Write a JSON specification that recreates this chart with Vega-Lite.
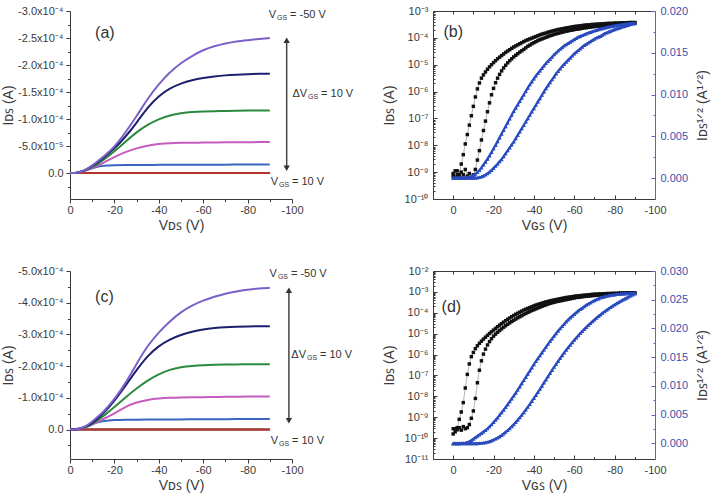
{
  "$schema": "https://vega.github.io/schema/vega-lite/v6.json",
  "background": "white",
  "padding": {"left": 1, "right": 4, "top": 5, "bottom": 4},
  "config": {
    "locale": {"number": {"decimal": ".", "thousands": ",", "grouping": [3], "currency": ["$", ""], "minus": "-"}},
    "view": {"stroke": null},
    "axis": {"grid": false, "labelFont": "Liberation Sans", "titleFont": "Liberation Sans", "labelFontSize": 11, "titleFontSize": 14, "titleFontWeight": "normal", "labelColor": "#3a3a3a", "titleColor": "#3a3a3a", "domainColor": "#3a3a3a", "tickColor": "#3a3a3a", "labelFlush": false, "labelOverlap": false},
    "text": {"font": "Liberation Sans", "color": "#333333"}
  },
  "datasets": {
    "oa": [
      {"v": 0, "gp10": 0, "g0": 0, "g10": 0, "g20": 0, "g30": 0, "g40": 0, "g50": 0},
      {"v": -2.5, "gp10": 0, "g0": 0, "g10": -5e-7, "g20": 0, "g30": 0, "g40": 0, "g50": 0},
      {"v": -5, "gp10": 0, "g0": 0, "g10": -3e-6, "g20": -2e-6, "g30": -2e-6, "g40": -2e-6, "g50": -2e-6},
      {"v": -7.5, "gp10": 0, "g0": 0, "g10": -6e-6, "g20": -5e-6, "g30": -6e-6, "g40": -7e-6, "g50": -7e-6},
      {"v": -10, "gp10": 0, "g0": 0, "g10": -9e-6, "g20": -9e-6, "g30": -1.1e-5, "g40": -1.3e-5, "g50": -1.4e-5},
      {"v": -12.5, "gp10": 0, "g0": 0, "g10": -1.2e-5, "g20": -1.4e-5, "g30": -1.7e-5, "g40": -2.0e-5, "g50": -2.2e-5},
      {"v": -15, "gp10": 0, "g0": 0, "g10": -1.35e-5, "g20": -1.9e-5, "g30": -2.4e-5, "g40": -2.8e-5, "g50": -3.0e-5},
      {"v": -20, "gp10": 0, "g0": 0, "g10": -1.45e-5, "g20": -3.0e-5, "g30": -4.0e-5, "g40": -4.5e-5, "g50": -4.8e-5},
      {"v": -25, "gp10": 0, "g0": 0, "g10": -1.48e-5, "g20": -3.9e-5, "g30": -5.8e-5, "g40": -6.7e-5, "g50": -7.5e-5},
      {"v": -30, "gp10": 0, "g0": 0, "g10": -1.5e-5, "g20": -4.6e-5, "g30": -7.6e-5, "g40": -9.3e-5, "g50": -1.05e-4},
      {"v": -35, "gp10": 0, "g0": 0, "g10": -1.51e-5, "g20": -5.1e-5, "g30": -9.0e-5, "g40": -1.22e-4, "g50": -1.38e-4},
      {"v": -40, "gp10": 0, "g0": 0, "g10": -1.52e-5, "g20": -5.4e-5, "g30": -1.0e-4, "g40": -1.43e-4, "g50": -1.65e-4},
      {"v": -45, "gp10": 0, "g0": 0, "g10": -1.53e-5, "g20": -5.55e-5, "g30": -1.07e-4, "g40": -1.57e-4, "g50": -1.87e-4},
      {"v": -50, "gp10": 0, "g0": 0, "g10": -1.54e-5, "g20": -5.6e-5, "g30": -1.11e-4, "g40": -1.66e-4, "g50": -2.04e-4},
      {"v": -55, "gp10": 0, "g0": 0, "g10": -1.54e-5, "g20": -5.62e-5, "g30": -1.13e-4, "g40": -1.72e-4, "g50": -2.17e-4},
      {"v": -60, "gp10": 0, "g0": 0, "g10": -1.55e-5, "g20": -5.65e-5, "g30": -1.14e-4, "g40": -1.76e-4, "g50": -2.28e-4},
      {"v": -65, "gp10": 0, "g0": 0, "g10": -1.56e-5, "g20": -5.67e-5, "g30": -1.145e-4, "g40": -1.79e-4, "g50": -2.35e-4},
      {"v": -70, "gp10": 0, "g0": 0, "g10": -1.56e-5, "g20": -5.7e-5, "g30": -1.15e-4, "g40": -1.81e-4, "g50": -2.40e-4},
      {"v": -75, "gp10": 0, "g0": 0, "g10": -1.57e-5, "g20": -5.7e-5, "g30": -1.155e-4, "g40": -1.82e-4, "g50": -2.44e-4},
      {"v": -80, "gp10": 0, "g0": 0, "g10": -1.58e-5, "g20": -5.72e-5, "g30": -1.16e-4, "g40": -1.83e-4, "g50": -2.46e-4},
      {"v": -85, "gp10": 0, "g0": 0, "g10": -1.59e-5, "g20": -5.73e-5, "g30": -1.16e-4, "g40": -1.84e-4, "g50": -2.48e-4},
      {"v": -90, "gp10": 0, "g0": 0, "g10": -1.6e-5, "g20": -5.75e-5, "g30": -1.16e-4, "g40": -1.84e-4, "g50": -2.50e-4}
    ],
    "oc": [
      {"v": 0, "gp10": 0, "g0": 0, "g10": 0, "g20": 0, "g30": 0, "g40": 0, "g50": 0},
      {"v": -2.5, "gp10": 0, "g0": 0, "g10": -1e-6, "g20": 0, "g30": 0, "g40": 0, "g50": 0},
      {"v": -5, "gp10": 0, "g0": 0, "g10": -4e-6, "g20": -3e-6, "g30": -3e-6, "g40": -3e-6, "g50": -3e-6},
      {"v": -7.5, "gp10": 0, "g0": 0, "g10": -1.0e-5, "g20": -8e-6, "g30": -9e-6, "g40": -1.0e-5, "g50": -1.2e-5},
      {"v": -10, "gp10": 0, "g0": 0, "g10": -1.7e-5, "g20": -1.5e-5, "g30": -1.7e-5, "g40": -2.0e-5, "g50": -2.5e-5},
      {"v": -12.5, "gp10": 0, "g0": 0, "g10": -2.3e-5, "g20": -2.5e-5, "g30": -3.0e-5, "g40": -3.5e-5, "g50": -4.0e-5},
      {"v": -15, "gp10": 0, "g0": 0, "g10": -2.7e-5, "g20": -3.3e-5, "g30": -4.2e-5, "g40": -5.0e-5, "g50": -5.5e-5},
      {"v": -20, "gp10": 0, "g0": 0, "g10": -3.0e-5, "g20": -5.0e-5, "g30": -7.0e-5, "g40": -9.0e-5, "g50": -9.5e-5},
      {"v": -25, "gp10": 0, "g0": 0, "g10": -3.1e-5, "g20": -7.2e-5, "g30": -1.02e-4, "g40": -1.38e-4, "g50": -1.45e-4},
      {"v": -30, "gp10": 0, "g0": 0, "g10": -3.1e-5, "g20": -8.6e-5, "g30": -1.30e-4, "g40": -1.88e-4, "g50": -2.08e-4},
      {"v": -35, "gp10": 0, "g0": 0, "g10": -3.12e-5, "g20": -9.4e-5, "g30": -1.55e-4, "g40": -2.33e-4, "g50": -2.65e-4},
      {"v": -40, "gp10": 0, "g0": 0, "g10": -3.15e-5, "g20": -9.8e-5, "g30": -1.75e-4, "g40": -2.64e-4, "g50": -3.07e-4},
      {"v": -45, "gp10": 0, "g0": 0, "g10": -3.17e-5, "g20": -1.0e-4, "g30": -1.89e-4, "g40": -2.85e-4, "g50": -3.42e-4},
      {"v": -50, "gp10": 0, "g0": 0, "g10": -3.2e-5, "g20": -1.01e-4, "g30": -1.97e-4, "g40": -2.99e-4, "g50": -3.71e-4},
      {"v": -55, "gp10": 0, "g0": 0, "g10": -3.2e-5, "g20": -1.015e-4, "g30": -2.01e-4, "g40": -3.09e-4, "g50": -3.92e-4},
      {"v": -60, "gp10": 0, "g0": 0, "g10": -3.22e-5, "g20": -1.02e-4, "g30": -2.03e-4, "g40": -3.16e-4, "g50": -4.07e-4},
      {"v": -65, "gp10": 0, "g0": 0, "g10": -3.25e-5, "g20": -1.025e-4, "g30": -2.04e-4, "g40": -3.2e-4, "g50": -4.19e-4},
      {"v": -70, "gp10": 0, "g0": 0, "g10": -3.27e-5, "g20": -1.03e-4, "g30": -2.05e-4, "g40": -3.23e-4, "g50": -4.29e-4},
      {"v": -75, "gp10": 0, "g0": 0, "g10": -3.3e-5, "g20": -1.035e-4, "g30": -2.05e-4, "g40": -3.24e-4, "g50": -4.36e-4},
      {"v": -80, "gp10": 0, "g0": 0, "g10": -3.3e-5, "g20": -1.04e-4, "g30": -2.06e-4, "g40": -3.25e-4, "g50": -4.41e-4},
      {"v": -85, "gp10": 0, "g0": 0, "g10": -3.3e-5, "g20": -1.04e-4, "g30": -2.06e-4, "g40": -3.26e-4, "g50": -4.45e-4},
      {"v": -90, "gp10": 0, "g0": 0, "g10": -3.3e-5, "g20": -1.04e-4, "g30": -2.06e-4, "g40": -3.26e-4, "g50": -4.47e-4}
    ],
    "tb": [
      {"v": 0, "ia": 8.91e-10, "ib": 7.08e-10, "sa": 0.00003, "sb": 0.00002},
      {"v": -1, "ia": 6.31e-10, "ib": 1.12e-9, "sa": 0.00002, "sb": 0.00002},
      {"v": -2, "ia": 1.12e-9, "ib": 7.94e-10, "sa": 0.00004, "sb": 0.00003},
      {"v": -3, "ia": 7.94e-10, "ib": 6.31e-10, "sa": 0.00003, "sb": 0.00002},
      {"v": -4, "ia": 2.0e-9, "ib": 1.0e-9, "sa": 0.00004, "sb": 0.00003},
      {"v": -5, "ia": 4.47e-9, "ib": 7.94e-10, "sa": 0.00005, "sb": 0.00002},
      {"v": -6, "ia": 1.12e-8, "ib": 1.26e-9, "sa": 0.00006, "sb": 0.00003},
      {"v": -7, "ia": 2.51e-8, "ib": 7.08e-10, "sa": 0.00008, "sb": 0.00002},
      {"v": -8, "ia": 5.62e-8, "ib": 8.91e-10, "sa": 0.0001, "sb": 0.00003},
      {"v": -9, "ia": 1.26e-7, "ib": 6.31e-10, "sa": 0.0002, "sb": 0.00002},
      {"v": -10, "ia": 2.82e-7, "ib": 7.94e-10, "sa": 0.00035, "sb": 0.00003},
      {"v": -11, "ia": 6.31e-7, "ib": 1.26e-9, "sa": 0.0005, "sb": 0.00003},
      {"v": -12, "ia": 1.26e-6, "ib": 2.82e-9, "sa": 0.0007, "sb": 0.00005},
      {"v": -13, "ia": 2.09e-6, "ib": 6.31e-9, "sa": 0.00095, "sb": 0.0001},
      {"v": -14, "ia": 3.16e-6, "ib": 1.58e-8, "sa": 0.00125, "sb": 0.00017},
      {"v": -15, "ia": 4.17e-6, "ib": 3.55e-8, "sa": 0.0016, "sb": 0.00027},
      {"v": -16, "ia": 5.37e-6, "ib": 7.94e-8, "sa": 0.00195, "sb": 0.0004},
      {"v": -17, "ia": 6.76e-6, "ib": 1.78e-7, "sa": 0.0023, "sb": 0.00055},
      {"v": -18, "ia": 8.32e-6, "ib": 3.80e-7, "sa": 0.0027, "sb": 0.00075},
      {"v": -19, "ia": 1.0e-5, "ib": 7.59e-7, "sa": 0.0031, "sb": 0.00095},
      {"v": -20, "ia": 1.20e-5, "ib": 1.32e-6, "sa": 0.00355, "sb": 0.0012},
      {"v": -21, "ia": 1.41e-5, "ib": 2.14e-6, "sa": 0.00395, "sb": 0.00145},
      {"v": -22, "ia": 1.66e-5, "ib": 3.16e-6, "sa": 0.0044, "sb": 0.0017},
      {"v": -23, "ia": 1.91e-5, "ib": 4.37e-6, "sa": 0.00485, "sb": 0.002},
      {"v": -24, "ia": 2.19e-5, "ib": 5.89e-6, "sa": 0.0053, "sb": 0.00225},
      {"v": -25, "ia": 2.51e-5, "ib": 7.59e-6, "sa": 0.00575, "sb": 0.0026},
      {"v": -26, "ia": 2.88e-5, "ib": 9.55e-6, "sa": 0.0062, "sb": 0.00295},
      {"v": -27, "ia": 3.24e-5, "ib": 1.17e-5, "sa": 0.00665, "sb": 0.0033},
      {"v": -28, "ia": 3.63e-5, "ib": 1.41e-5, "sa": 0.0071, "sb": 0.00365},
      {"v": -29, "ia": 4.07e-5, "ib": 1.66e-5, "sa": 0.00755, "sb": 0.004},
      {"v": -30, "ia": 4.57e-5, "ib": 1.95e-5, "sa": 0.008, "sb": 0.00435},
      {"v": -31, "ia": 5.01e-5, "ib": 2.24e-5, "sa": 0.0084, "sb": 0.00475},
      {"v": -32, "ia": 5.50e-5, "ib": 2.57e-5, "sa": 0.0088, "sb": 0.00515},
      {"v": -33, "ia": 6.03e-5, "ib": 2.95e-5, "sa": 0.0092, "sb": 0.00555},
      {"v": -34, "ia": 6.61e-5, "ib": 3.31e-5, "sa": 0.0096, "sb": 0.00595},
      {"v": -35, "ia": 7.24e-5, "ib": 3.72e-5, "sa": 0.01, "sb": 0.00635},
      {"v": -36, "ia": 7.94e-5, "ib": 4.27e-5, "sa": 0.0104, "sb": 0.00675},
      {"v": -37, "ia": 8.51e-5, "ib": 4.90e-5, "sa": 0.0108, "sb": 0.00715},
      {"v": -38, "ia": 9.12e-5, "ib": 5.37e-5, "sa": 0.0112, "sb": 0.00755},
      {"v": -39, "ia": 9.77e-5, "ib": 6.03e-5, "sa": 0.01155, "sb": 0.00795},
      {"v": -40, "ia": 1.05e-4, "ib": 6.61e-5, "sa": 0.0119, "sb": 0.00835},
      {"v": -41, "ia": 1.12e-4, "ib": 7.24e-5, "sa": 0.01225, "sb": 0.00875},
      {"v": -42, "ia": 1.20e-4, "ib": 7.94e-5, "sa": 0.01255, "sb": 0.00915},
      {"v": -43, "ia": 1.29e-4, "ib": 8.51e-5, "sa": 0.01285, "sb": 0.00955},
      {"v": -44, "ia": 1.38e-4, "ib": 9.12e-5, "sa": 0.01315, "sb": 0.00995},
      {"v": -45, "ia": 1.45e-4, "ib": 9.77e-5, "sa": 0.01345, "sb": 0.01035},
      {"v": -46, "ia": 1.51e-4, "ib": 1.05e-4, "sa": 0.01375, "sb": 0.01075},
      {"v": -47, "ia": 1.62e-4, "ib": 1.12e-4, "sa": 0.014, "sb": 0.0111},
      {"v": -48, "ia": 1.70e-4, "ib": 1.20e-4, "sa": 0.01425, "sb": 0.01145},
      {"v": -49, "ia": 1.78e-4, "ib": 1.26e-4, "sa": 0.0145, "sb": 0.0118},
      {"v": -50, "ia": 1.86e-4, "ib": 1.35e-4, "sa": 0.0148, "sb": 0.01215},
      {"v": -51, "ia": 1.95e-4, "ib": 1.41e-4, "sa": 0.015, "sb": 0.0125},
      {"v": -52, "ia": 2.04e-4, "ib": 1.48e-4, "sa": 0.01525, "sb": 0.0128},
      {"v": -53, "ia": 2.09e-4, "ib": 1.55e-4, "sa": 0.01545, "sb": 0.0131},
      {"v": -54, "ia": 2.19e-4, "ib": 1.62e-4, "sa": 0.01565, "sb": 0.0134},
      {"v": -55, "ia": 2.24e-4, "ib": 1.70e-4, "sa": 0.01585, "sb": 0.01365},
      {"v": -56, "ia": 2.34e-4, "ib": 1.78e-4, "sa": 0.016, "sb": 0.0139},
      {"v": -57, "ia": 2.40e-4, "ib": 1.82e-4, "sa": 0.01615, "sb": 0.01415},
      {"v": -58, "ia": 2.45e-4, "ib": 1.91e-4, "sa": 0.0163, "sb": 0.0144},
      {"v": -59, "ia": 2.57e-4, "ib": 1.95e-4, "sa": 0.01645, "sb": 0.01465},
      {"v": -60, "ia": 2.63e-4, "ib": 2.04e-4, "sa": 0.0166, "sb": 0.0149},
      {"v": -61, "ia": 2.69e-4, "ib": 2.09e-4, "sa": 0.01675, "sb": 0.0151},
      {"v": -62, "ia": 2.75e-4, "ib": 2.14e-4, "sa": 0.0169, "sb": 0.0153},
      {"v": -63, "ia": 2.82e-4, "ib": 2.19e-4, "sa": 0.017, "sb": 0.0155},
      {"v": -64, "ia": 2.88e-4, "ib": 2.29e-4, "sa": 0.0171, "sb": 0.0157},
      {"v": -65, "ia": 2.95e-4, "ib": 2.34e-4, "sa": 0.0172, "sb": 0.0159},
      {"v": -66, "ia": 3.02e-4, "ib": 2.40e-4, "sa": 0.0173, "sb": 0.01605},
      {"v": -67, "ia": 3.02e-4, "ib": 2.45e-4, "sa": 0.0174, "sb": 0.0162},
      {"v": -68, "ia": 3.09e-4, "ib": 2.51e-4, "sa": 0.01748, "sb": 0.01635},
      {"v": -69, "ia": 3.16e-4, "ib": 2.57e-4, "sa": 0.01756, "sb": 0.0165},
      {"v": -70, "ia": 3.16e-4, "ib": 2.63e-4, "sa": 0.01764, "sb": 0.01665},
      {"v": -71, "ia": 3.24e-4, "ib": 2.69e-4, "sa": 0.01772, "sb": 0.0168},
      {"v": -72, "ia": 3.24e-4, "ib": 2.75e-4, "sa": 0.0178, "sb": 0.0169},
      {"v": -73, "ia": 3.31e-4, "ib": 2.75e-4, "sa": 0.01786, "sb": 0.017},
      {"v": -74, "ia": 3.31e-4, "ib": 2.82e-4, "sa": 0.01792, "sb": 0.01715},
      {"v": -75, "ia": 3.39e-4, "ib": 2.88e-4, "sa": 0.01798, "sb": 0.0173},
      {"v": -76, "ia": 3.39e-4, "ib": 2.95e-4, "sa": 0.01804, "sb": 0.0174},
      {"v": -77, "ia": 3.47e-4, "ib": 2.95e-4, "sa": 0.0181, "sb": 0.0175},
      {"v": -78, "ia": 3.47e-4, "ib": 3.02e-4, "sa": 0.01815, "sb": 0.0176},
      {"v": -79, "ia": 3.47e-4, "ib": 3.09e-4, "sa": 0.0182, "sb": 0.0177},
      {"v": -80, "ia": 3.55e-4, "ib": 3.09e-4, "sa": 0.01824, "sb": 0.0178},
      {"v": -81, "ia": 3.55e-4, "ib": 3.16e-4, "sa": 0.01828, "sb": 0.01788},
      {"v": -82, "ia": 3.55e-4, "ib": 3.24e-4, "sa": 0.01832, "sb": 0.01796},
      {"v": -83, "ia": 3.63e-4, "ib": 3.24e-4, "sa": 0.01836, "sb": 0.01804},
      {"v": -84, "ia": 3.63e-4, "ib": 3.31e-4, "sa": 0.0184, "sb": 0.01812},
      {"v": -85, "ia": 3.63e-4, "ib": 3.39e-4, "sa": 0.01843, "sb": 0.0182},
      {"v": -86, "ia": 3.63e-4, "ib": 3.39e-4, "sa": 0.01846, "sb": 0.01827},
      {"v": -87, "ia": 3.72e-4, "ib": 3.47e-4, "sa": 0.01849, "sb": 0.01834},
      {"v": -88, "ia": 3.72e-4, "ib": 3.47e-4, "sa": 0.01852, "sb": 0.01841},
      {"v": -89, "ia": 3.72e-4, "ib": 3.55e-4, "sa": 0.01854, "sb": 0.01847},
      {"v": -90, "ia": 3.72e-4, "ib": 3.63e-4, "sa": 0.01855, "sb": 0.01852}
    ],
    "td": [
      {"v": 0, "ia": 2.82e-10, "ib": 1.58e-10, "sa": 0.00002, "sb": 0.00002},
      {"v": -1, "ia": 2.0e-10, "ib": 2.82e-10, "sa": 0.00002, "sb": 0.00002},
      {"v": -2, "ia": 3.16e-10, "ib": 2.51e-10, "sa": 0.00003, "sb": 0.00002},
      {"v": -3, "ia": 7.94e-10, "ib": 3.16e-10, "sa": 0.00003, "sb": 0.00002},
      {"v": -4, "ia": 1.78e-9, "ib": 2.40e-10, "sa": 0.00004, "sb": 0.00002},
      {"v": -5, "ia": 5.01e-9, "ib": 3.55e-10, "sa": 0.00005, "sb": 0.00002},
      {"v": -6, "ia": 2.51e-8, "ib": 2.82e-10, "sa": 0.0001, "sb": 0.00002},
      {"v": -7, "ia": 1.12e-7, "ib": 3.16e-10, "sa": 0.0002, "sb": 0.00002},
      {"v": -8, "ia": 3.55e-7, "ib": 4.47e-10, "sa": 0.00035, "sb": 0.00002},
      {"v": -9, "ia": 7.94e-7, "ib": 8.91e-10, "sa": 0.00055, "sb": 0.00002},
      {"v": -10, "ia": 1.26e-6, "ib": 2.0e-9, "sa": 0.0008, "sb": 0.00002},
      {"v": -11, "ia": 1.91e-6, "ib": 7.94e-9, "sa": 0.00105, "sb": 0.00002},
      {"v": -12, "ia": 2.63e-6, "ib": 4.47e-8, "sa": 0.0013, "sb": 0.00002},
      {"v": -13, "ia": 3.47e-6, "ib": 1.78e-7, "sa": 0.00155, "sb": 0.00005},
      {"v": -14, "ia": 4.37e-6, "ib": 5.01e-7, "sa": 0.0018, "sb": 0.00008},
      {"v": -15, "ia": 5.50e-6, "ib": 1.05e-6, "sa": 0.00205, "sb": 0.00012},
      {"v": -16, "ia": 6.76e-6, "ib": 1.82e-6, "sa": 0.0023, "sb": 0.00018},
      {"v": -17, "ia": 8.32e-6, "ib": 2.88e-6, "sa": 0.0026, "sb": 0.00026},
      {"v": -18, "ia": 1.02e-5, "ib": 4.17e-6, "sa": 0.00295, "sb": 0.00036},
      {"v": -19, "ia": 1.23e-5, "ib": 5.75e-6, "sa": 0.0033, "sb": 0.0005},
      {"v": -20, "ia": 1.48e-5, "ib": 7.59e-6, "sa": 0.0037, "sb": 0.00065},
      {"v": -21, "ia": 1.78e-5, "ib": 9.55e-6, "sa": 0.0041, "sb": 0.00082},
      {"v": -22, "ia": 2.14e-5, "ib": 1.17e-5, "sa": 0.0045, "sb": 0.001},
      {"v": -23, "ia": 2.57e-5, "ib": 1.41e-5, "sa": 0.00495, "sb": 0.0012},
      {"v": -24, "ia": 3.02e-5, "ib": 1.70e-5, "sa": 0.0054, "sb": 0.00145},
      {"v": -25, "ia": 3.55e-5, "ib": 2.04e-5, "sa": 0.00585, "sb": 0.00172},
      {"v": -26, "ia": 4.17e-5, "ib": 2.40e-5, "sa": 0.0063, "sb": 0.002},
      {"v": -27, "ia": 4.90e-5, "ib": 2.82e-5, "sa": 0.0068, "sb": 0.0023},
      {"v": -28, "ia": 5.62e-5, "ib": 3.31e-5, "sa": 0.0073, "sb": 0.00262},
      {"v": -29, "ia": 6.46e-5, "ib": 3.80e-5, "sa": 0.0078, "sb": 0.00296},
      {"v": -30, "ia": 7.41e-5, "ib": 4.37e-5, "sa": 0.0083, "sb": 0.00332},
      {"v": -31, "ia": 8.51e-5, "ib": 5.01e-5, "sa": 0.0088, "sb": 0.0037},
      {"v": -32, "ia": 9.55e-5, "ib": 5.75e-5, "sa": 0.00935, "sb": 0.0041},
      {"v": -33, "ia": 1.07e-4, "ib": 6.46e-5, "sa": 0.0099, "sb": 0.00452},
      {"v": -34, "ia": 1.20e-4, "ib": 7.24e-5, "sa": 0.01045, "sb": 0.00495},
      {"v": -35, "ia": 1.35e-4, "ib": 8.32e-5, "sa": 0.011, "sb": 0.0054},
      {"v": -36, "ia": 1.48e-4, "ib": 9.33e-5, "sa": 0.01155, "sb": 0.00587},
      {"v": -37, "ia": 1.62e-4, "ib": 1.05e-4, "sa": 0.0121, "sb": 0.00635},
      {"v": -38, "ia": 1.78e-4, "ib": 1.15e-4, "sa": 0.01265, "sb": 0.00685},
      {"v": -39, "ia": 1.95e-4, "ib": 1.29e-4, "sa": 0.0132, "sb": 0.00736},
      {"v": -40, "ia": 2.14e-4, "ib": 1.41e-4, "sa": 0.01375, "sb": 0.00788},
      {"v": -41, "ia": 2.34e-4, "ib": 1.55e-4, "sa": 0.0143, "sb": 0.0084},
      {"v": -42, "ia": 2.51e-4, "ib": 1.70e-4, "sa": 0.0148, "sb": 0.00893},
      {"v": -43, "ia": 2.69e-4, "ib": 1.86e-4, "sa": 0.0153, "sb": 0.00947},
      {"v": -44, "ia": 2.88e-4, "ib": 2.04e-4, "sa": 0.0158, "sb": 0.01002},
      {"v": -45, "ia": 3.09e-4, "ib": 2.24e-4, "sa": 0.0163, "sb": 0.01057},
      {"v": -46, "ia": 3.31e-4, "ib": 2.40e-4, "sa": 0.0168, "sb": 0.01112},
      {"v": -47, "ia": 3.47e-4, "ib": 2.63e-4, "sa": 0.0173, "sb": 0.01167},
      {"v": -48, "ia": 3.72e-4, "ib": 2.82e-4, "sa": 0.0178, "sb": 0.01222},
      {"v": -49, "ia": 3.89e-4, "ib": 3.02e-4, "sa": 0.01825, "sb": 0.01277},
      {"v": -50, "ia": 4.07e-4, "ib": 3.16e-4, "sa": 0.0187, "sb": 0.0133},
      {"v": -51, "ia": 4.27e-4, "ib": 3.39e-4, "sa": 0.01915, "sb": 0.01382},
      {"v": -52, "ia": 4.47e-4, "ib": 3.55e-4, "sa": 0.0196, "sb": 0.01433},
      {"v": -53, "ia": 4.68e-4, "ib": 3.72e-4, "sa": 0.02, "sb": 0.01483},
      {"v": -54, "ia": 4.90e-4, "ib": 3.89e-4, "sa": 0.0204, "sb": 0.01532},
      {"v": -55, "ia": 5.13e-4, "ib": 4.07e-4, "sa": 0.0208, "sb": 0.0158},
      {"v": -56, "ia": 5.37e-4, "ib": 4.27e-4, "sa": 0.0212, "sb": 0.01627},
      {"v": -57, "ia": 5.50e-4, "ib": 4.47e-4, "sa": 0.02155, "sb": 0.01672},
      {"v": -58, "ia": 5.75e-4, "ib": 4.68e-4, "sa": 0.0219, "sb": 0.01716},
      {"v": -59, "ia": 5.89e-4, "ib": 4.90e-4, "sa": 0.0222, "sb": 0.01759},
      {"v": -60, "ia": 6.17e-4, "ib": 5.13e-4, "sa": 0.0225, "sb": 0.018},
      {"v": -61, "ia": 6.31e-4, "ib": 5.37e-4, "sa": 0.0228, "sb": 0.0184},
      {"v": -62, "ia": 6.46e-4, "ib": 5.50e-4, "sa": 0.0231, "sb": 0.0188},
      {"v": -63, "ia": 6.61e-4, "ib": 5.62e-4, "sa": 0.02335, "sb": 0.01918},
      {"v": -64, "ia": 6.76e-4, "ib": 5.89e-4, "sa": 0.0236, "sb": 0.01955},
      {"v": -65, "ia": 6.92e-4, "ib": 6.03e-4, "sa": 0.02385, "sb": 0.0199},
      {"v": -66, "ia": 7.08e-4, "ib": 6.17e-4, "sa": 0.0241, "sb": 0.02025},
      {"v": -67, "ia": 7.24e-4, "ib": 6.31e-4, "sa": 0.0243, "sb": 0.0206},
      {"v": -68, "ia": 7.41e-4, "ib": 6.46e-4, "sa": 0.0245, "sb": 0.02092},
      {"v": -69, "ia": 7.59e-4, "ib": 6.61e-4, "sa": 0.0247, "sb": 0.02124},
      {"v": -70, "ia": 7.76e-4, "ib": 6.76e-4, "sa": 0.0249, "sb": 0.02155},
      {"v": -71, "ia": 7.76e-4, "ib": 6.92e-4, "sa": 0.02505, "sb": 0.02185},
      {"v": -72, "ia": 7.94e-4, "ib": 7.08e-4, "sa": 0.0252, "sb": 0.02214},
      {"v": -73, "ia": 7.94e-4, "ib": 7.24e-4, "sa": 0.02535, "sb": 0.02242},
      {"v": -74, "ia": 8.13e-4, "ib": 7.41e-4, "sa": 0.02545, "sb": 0.0227},
      {"v": -75, "ia": 8.13e-4, "ib": 7.59e-4, "sa": 0.02555, "sb": 0.02296},
      {"v": -76, "ia": 8.32e-4, "ib": 7.59e-4, "sa": 0.02565, "sb": 0.02322},
      {"v": -77, "ia": 8.32e-4, "ib": 7.76e-4, "sa": 0.02572, "sb": 0.02347},
      {"v": -78, "ia": 8.32e-4, "ib": 7.94e-4, "sa": 0.0258, "sb": 0.02371},
      {"v": -79, "ia": 8.51e-4, "ib": 7.94e-4, "sa": 0.02585, "sb": 0.02394},
      {"v": -80, "ia": 8.51e-4, "ib": 8.13e-4, "sa": 0.0259, "sb": 0.02416},
      {"v": -81, "ia": 8.51e-4, "ib": 8.13e-4, "sa": 0.02595, "sb": 0.02437},
      {"v": -82, "ia": 8.71e-4, "ib": 8.32e-4, "sa": 0.026, "sb": 0.02458},
      {"v": -83, "ia": 8.71e-4, "ib": 8.32e-4, "sa": 0.02602, "sb": 0.02478},
      {"v": -84, "ia": 8.71e-4, "ib": 8.51e-4, "sa": 0.02605, "sb": 0.02497},
      {"v": -85, "ia": 8.71e-4, "ib": 8.51e-4, "sa": 0.02607, "sb": 0.02516},
      {"v": -86, "ia": 8.91e-4, "ib": 8.71e-4, "sa": 0.0261, "sb": 0.02534},
      {"v": -87, "ia": 8.91e-4, "ib": 8.71e-4, "sa": 0.02612, "sb": 0.02552},
      {"v": -88, "ia": 8.91e-4, "ib": 8.91e-4, "sa": 0.02614, "sb": 0.0257},
      {"v": -89, "ia": 8.91e-4, "ib": 8.91e-4, "sa": 0.02616, "sb": 0.02587},
      {"v": -90, "ia": 8.91e-4, "ib": 8.91e-4, "sa": 0.0262, "sb": 0.02605}
    ],
    "notes": [
      {"p": "a", "v": -92.8, "i": -2.93e-4, "t1": "V", "t2": "GS", "t3": "= -50 V"},
      {"p": "a", "v": -106.8, "i": -1.46e-4, "t1": "ΔV", "t2": "GS", "t3": "= 10 V"},
      {"p": "a", "v": -93.7, "i": 1.7e-5, "t1": "V", "t2": "GS", "t3": "= 10 V"},
      {"p": "c", "v": -93.2, "i": -4.9e-4, "t1": "V", "t2": "GS", "t3": "= -50 V"},
      {"p": "c", "v": -106.3, "i": -2.36e-4, "t1": "ΔV", "t2": "GS", "t3": "= 10 V"},
      {"p": "c", "v": -93.7, "i": 3.5e-5, "t1": "V", "t2": "GS", "t3": "= 10 V"}
    ],
    "arrows": [
      {"p": "a", "v": -97.6, "hi": -2.46e-4, "lo": -9e-6},
      {"p": "c", "v": -98.6, "hi": -4.39e-4, "lo": -2.8e-5}
    ],
    "tags": [
      {"p": "a", "v": -15.7, "y": -2.6e-4, "t": "(a)"},
      {"p": "b", "v": 0, "y": 1.62e-4, "t": "(b)"},
      {"p": "c", "v": -15.5, "y": -4.19e-4, "t": "(c)"},
      {"p": "d", "v": 0.9, "y": 1.82e-4, "t": "(d)"}
    ]
  },
  "columns": 2,
  "spacing": {"row": 72, "column": 141},
  "bounds": "flush",
  "concat": [
    {
      "width": 222,
      "height": 188,
      "resolve": {"axis": {"x": "independent", "y": "independent"}},
      "layer": [
        {
          "data": {"name": "oa"},
          "transform": [{"fold": ["gp10", "g0", "g10", "g20", "g30", "g40", "g50"], "as": ["vgs", "i"]}],
          "mark": {"type": "line", "interpolate": "basis"},
          "encoding": {
            "x": {"field": "v", "type": "quantitative", "scale": {"domain": [-100, 0], "reverse": true},
              "axis": {"orient": "bottom", "values": [0, -20, -40, -60, -80, -100], "tickSize": 4, "labelPadding": 1, "title": "Vᴅꜱ (V)", "titlePadding": 3}},
            "y": {"field": "i", "type": "quantitative", "scale": {"domain": [-3e-4, 4.8e-5], "reverse": true},
              "axis": {"orient": "left", "values": [-3e-4, -2.5e-4, -2e-4, -1.5e-4, -1e-4, -5e-5, 0], "tickSize": 4, "labelPadding": 3, "title": "Iᴅꜱ (A)", "titlePadding": 2,
                "labelExpr": "datum.value == 0 ? '0.0' : abs(datum.value) < 9.9e-5 ? format(datum.value * 1e5, '.1f') + 'x10⁻⁵' : format(datum.value * 1e4, '.1f') + 'x10⁻⁴'"}},
            "color": {"field": "vgs", "type": "nominal", "legend": null,
              "scale": {"domain": ["gp10", "g0", "g10", "g20", "g30", "g40", "g50"], "range": ["#2b2b2b", "#b8342a", "#3a66c0", "#c65cc0", "#2b8a3e", "#1b1f6c", "#7b60c8"]}},
            "strokeWidth": {"field": "vgs", "type": "nominal", "legend": null,
              "scale": {"domain": ["gp10", "g0", "g10", "g20", "g30", "g40", "g50"], "range": [2, 2, 1.5, 1.8, 2, 2, 2]}}
          }
        },
        {
          "data": {"name": "arrows"},
          "transform": [{"filter": "datum.p == 'a'"}],
          "mark": {"type": "rule", "color": "#444444", "strokeWidth": 1.5},
          "encoding": {
            "x": {"field": "v", "type": "quantitative", "scale": {"domain": [-100, 0], "reverse": true},
              "axis": {"orient": "bottom", "values": [-10, -30, -50, -70, -90], "tickSize": 2.5, "labels": false, "domain": false, "title": null}},
            "y": {"field": "hi", "type": "quantitative", "scale": {"domain": [-3e-4, 4.8e-5], "reverse": true},
              "axis": {"orient": "left", "values": [-2.75e-4, -2.25e-4, -1.75e-4, -1.25e-4, -7.5e-5, -2.5e-5, 2.5e-5], "tickSize": 2.5, "labels": false, "domain": false, "title": null}},
            "y2": {"field": "lo"}
          }
        },
        {
          "data": {"name": "arrows"},
          "transform": [{"filter": "datum.p == 'a'"}],
          "mark": {"type": "point", "shape": "triangle-up", "size": 40, "filled": true, "color": "#333333", "opacity": 1},
          "encoding": {
            "x": {"field": "v", "type": "quantitative", "scale": {"domain": [-100, 0], "reverse": true}, "axis": null},
            "y": {"field": "hi", "type": "quantitative", "scale": {"domain": [-3e-4, 4.8e-5], "reverse": true}, "axis": null}
          }
        },
        {
          "data": {"name": "arrows"},
          "transform": [{"filter": "datum.p == 'a'"}],
          "mark": {"type": "point", "shape": "triangle-down", "size": 40, "filled": true, "color": "#333333", "opacity": 1},
          "encoding": {
            "x": {"field": "v", "type": "quantitative", "scale": {"domain": [-100, 0], "reverse": true}, "axis": null},
            "y": {"field": "lo", "type": "quantitative", "scale": {"domain": [-3e-4, 4.8e-5], "reverse": true}, "axis": null}
          }
        },
        {
          "data": {"name": "notes"},
          "transform": [{"filter": "datum.p == 'a'"}],
          "mark": {"type": "text", "align": "right", "baseline": "middle", "fontSize": 11},
          "encoding": {
            "x": {"field": "v", "type": "quantitative", "scale": {"domain": [-100, 0], "reverse": true}, "axis": null},
            "y": {"field": "i", "type": "quantitative", "scale": {"domain": [-3e-4, 4.8e-5], "reverse": true}, "axis": null},
            "text": {"field": "t1"}
          }
        },
        {
          "data": {"name": "notes"},
          "transform": [{"filter": "datum.p == 'a'"}],
          "mark": {"type": "text", "align": "left", "baseline": "middle", "fontSize": 7, "dx": 1, "dy": 3},
          "encoding": {
            "x": {"field": "v", "type": "quantitative", "scale": {"domain": [-100, 0], "reverse": true}, "axis": null},
            "y": {"field": "i", "type": "quantitative", "scale": {"domain": [-3e-4, 4.8e-5], "reverse": true}, "axis": null},
            "text": {"field": "t2"}
          }
        },
        {
          "data": {"name": "notes"},
          "transform": [{"filter": "datum.p == 'a'"}],
          "mark": {"type": "text", "align": "left", "baseline": "middle", "fontSize": 11, "dx": 14},
          "encoding": {
            "x": {"field": "v", "type": "quantitative", "scale": {"domain": [-100, 0], "reverse": true}, "axis": null},
            "y": {"field": "i", "type": "quantitative", "scale": {"domain": [-3e-4, 4.8e-5], "reverse": true}, "axis": null},
            "text": {"field": "t3"}
          }
        },
        {
          "data": {"name": "tags"},
          "transform": [{"filter": "datum.p == 'a'"}],
          "mark": {"type": "text", "align": "center", "baseline": "middle", "fontSize": 16},
          "encoding": {
            "x": {"field": "v", "type": "quantitative", "scale": {"domain": [-100, 0], "reverse": true}, "axis": null},
            "y": {"field": "y", "type": "quantitative", "scale": {"domain": [-3e-4, 4.8e-5], "reverse": true}, "axis": null},
            "text": {"field": "t"}
          }
        }
      ]
    },
    {
      "width": 222,
      "height": 188,
      "data": {"name": "tb"},
      "resolve": {"scale": {"y": "independent"}, "axis": {"x": "independent", "y": "independent"}},
      "layer": [
        {
          "mark": {"type": "line", "color": "#808080", "strokeWidth": 0.6},
          "encoding": {
            "x": {"field": "v", "type": "quantitative", "scale": {"domain": [-100, 10], "reverse": true},
              "axis": {"orient": "bottom", "values": [-10, -30, -50, -70, -90], "tickSize": -2.5, "labels": false, "domain": false, "title": null}},
            "y": {"field": "ia", "type": "quantitative", "scale": {"type": "log", "domain": [1e-10, 1e-3]},
              "axis": {"orient": "left", "tickSize": -2, "labels": false, "domain": false, "title": null,
                "values": [2e-10, 3e-10, 4e-10, 5e-10, 6e-10, 7e-10, 8e-10, 9e-10, 2e-9, 3e-9, 4e-9, 5e-9, 6e-9, 7e-9, 8e-9, 9e-9, 2e-8, 3e-8, 4e-8, 5e-8, 6e-8, 7e-8, 8e-8, 9e-8, 2e-7, 3e-7, 4e-7, 5e-7, 6e-7, 7e-7, 8e-7, 9e-7, 2e-6, 3e-6, 4e-6, 5e-6, 6e-6, 7e-6, 8e-6, 9e-6, 2e-5, 3e-5, 4e-5, 5e-5, 6e-5, 7e-5, 8e-5, 9e-5, 2e-4, 3e-4, 4e-4, 5e-4, 6e-4, 7e-4, 8e-4, 9e-4]}}
          }
        },
        {
          "mark": {"type": "line", "color": "#808080", "strokeWidth": 0.6},
          "encoding": {
            "x": {"field": "v", "type": "quantitative", "scale": {"domain": [-100, 10], "reverse": true}, "axis": null},
            "y": {"field": "ib", "type": "quantitative", "scale": {"type": "log", "domain": [1e-10, 1e-3]}, "axis": null}
          }
        },
        {
          "mark": {"type": "point", "shape": "square", "size": 12, "filled": true, "color": "#111111", "opacity": 1},
          "encoding": {
            "x": {"field": "v", "type": "quantitative", "scale": {"domain": [-100, 10], "reverse": true},
              "axis": {"orient": "bottom", "values": [0, -20, -40, -60, -80, -100], "tickSize": -4, "labelPadding": 9, "title": "Vɢꜱ (V)", "titlePadding": 3}},
            "y": {"field": "ia", "type": "quantitative", "scale": {"type": "log", "domain": [1e-10, 1e-3]},
              "axis": {"orient": "left", "values": [1e-10, 1e-9, 1e-8, 1e-7, 1e-6, 1e-5, 1e-4, 1e-3], "tickSize": -4, "labelPadding": 9, "title": "Iᴅꜱ (A)", "titlePadding": 8,
                "labelExpr": "datum.value < 3e-11 ? '10⁻¹¹' : datum.value < 3e-10 ? '10⁻¹⁰' : datum.value < 3e-9 ? '10⁻⁹' : datum.value < 3e-8 ? '10⁻⁸' : datum.value < 3e-7 ? '10⁻⁷' : datum.value < 3e-6 ? '10⁻⁶' : datum.value < 3e-5 ? '10⁻⁵' : datum.value < 3e-4 ? '10⁻⁴' : datum.value < 3e-3 ? '10⁻³' : '10⁻²'"}}
          }
        },
        {
          "mark": {"type": "point", "shape": "square", "size": 12, "filled": true, "color": "#111111", "opacity": 1},
          "encoding": {
            "x": {"field": "v", "type": "quantitative", "scale": {"domain": [-100, 10], "reverse": true}, "axis": null},
            "y": {"field": "ib", "type": "quantitative", "scale": {"type": "log", "domain": [1e-10, 1e-3]}, "axis": null}
          }
        },
        {
          "mark": {"type": "line", "color": "#2a4bbf", "strokeWidth": 2.2},
          "encoding": {
            "x": {"field": "v", "type": "quantitative", "scale": {"domain": [-100, 10], "reverse": true}, "axis": null},
            "y": {"field": "sa", "type": "quantitative", "scale": {"domain": [-0.0025, 0.02]}, "axis": null}
          }
        },
        {
          "mark": {"type": "line", "color": "#2a4bbf", "strokeWidth": 2.2},
          "encoding": {
            "x": {"field": "v", "type": "quantitative", "scale": {"domain": [-100, 10], "reverse": true}, "axis": null},
            "y": {"field": "sb", "type": "quantitative", "scale": {"domain": [-0.0025, 0.02]}, "axis": null}
          }
        },
        {
          "mark": {"type": "point", "shape": "triangle-up", "size": 18, "filled": true, "color": "#2a4bbf", "opacity": 1},
          "encoding": {
            "x": {"field": "v", "type": "quantitative", "scale": {"domain": [-100, 10], "reverse": true},
              "axis": {"orient": "top", "values": [0, -10, -20, -30, -40, -50, -60, -70, -80, -90], "tickSize": -3, "labels": false, "title": null}},
            "y": {"field": "sa", "type": "quantitative", "scale": {"domain": [-0.0025, 0.02]},
              "axis": {"orient": "right", "values": [0, 0.005, 0.01, 0.015, 0.02], "format": ".3f", "tickSize": -4, "labelPadding": 9, "labelFontSize": 11,
                "labelColor": "#3b4fae", "domainColor": "#5468c0", "tickColor": "#5468c0", "title": "Iᴅꜱ¹ᐟ² (A¹ᐟ²)", "titleAngle": 270, "titleBaseline": "top", "titlePadding": 8}}
          }
        },
        {
          "mark": {"type": "point", "shape": "triangle-up", "size": 18, "filled": true, "color": "#2a4bbf", "opacity": 1},
          "encoding": {
            "x": {"field": "v", "type": "quantitative", "scale": {"domain": [-100, 10], "reverse": true}, "axis": null},
            "y": {"field": "sb", "type": "quantitative", "scale": {"domain": [-0.0025, 0.02]},
              "axis": {"orient": "right", "values": [0.0025, 0.0075, 0.0125, 0.0175], "tickSize": -2, "labels": false, "domain": false, "tickColor": "#5468c0", "title": null}}
          }
        },
        {
          "data": {"name": "tags"},
          "transform": [{"filter": "datum.p == 'b'"}],
          "mark": {"type": "text", "align": "center", "baseline": "middle", "fontSize": 16},
          "encoding": {
            "x": {"field": "v", "type": "quantitative", "scale": {"domain": [-100, 10], "reverse": true}, "axis": null},
            "y": {"field": "y", "type": "quantitative", "scale": {"type": "log", "domain": [1e-10, 1e-3]}, "axis": null},
            "text": {"field": "t"}
          }
        }
      ]
    },
    {
      "width": 222,
      "height": 188,
      "resolve": {"axis": {"x": "independent", "y": "independent"}},
      "layer": [
        {
          "data": {"name": "oc"},
          "transform": [{"fold": ["gp10", "g0", "g10", "g20", "g30", "g40", "g50"], "as": ["vgs", "i"]}],
          "mark": {"type": "line", "interpolate": "basis"},
          "encoding": {
            "x": {"field": "v", "type": "quantitative", "scale": {"domain": [-100, 0], "reverse": true},
              "axis": {"orient": "bottom", "values": [0, -20, -40, -60, -80, -100], "tickSize": 4, "labelPadding": 1, "title": "Vᴅꜱ (V)", "titlePadding": 3}},
            "y": {"field": "i", "type": "quantitative", "scale": {"domain": [-5e-4, 9.3e-5], "reverse": true},
              "axis": {"orient": "left", "values": [-5e-4, -4e-4, -3e-4, -2e-4, -1e-4, 0], "tickSize": 4, "labelPadding": 3, "title": "Iᴅꜱ (A)", "titlePadding": 2,
                "labelExpr": "datum.value == 0 ? '0.0' : format(datum.value * 1e4, '.1f') + 'x10⁻⁴'"}},
            "color": {"field": "vgs", "type": "nominal", "legend": null,
              "scale": {"domain": ["gp10", "g0", "g10", "g20", "g30", "g40", "g50"], "range": ["#2b2b2b", "#b8342a", "#3a66c0", "#c65cc0", "#2b8a3e", "#1b1f6c", "#7b60c8"]}},
            "strokeWidth": {"field": "vgs", "type": "nominal", "legend": null,
              "scale": {"domain": ["gp10", "g0", "g10", "g20", "g30", "g40", "g50"], "range": [2, 2, 1.5, 1.8, 2, 2, 2]}}
          }
        },
        {
          "data": {"name": "arrows"},
          "transform": [{"filter": "datum.p == 'c'"}],
          "mark": {"type": "rule", "color": "#444444", "strokeWidth": 1.5},
          "encoding": {
            "x": {"field": "v", "type": "quantitative", "scale": {"domain": [-100, 0], "reverse": true},
              "axis": {"orient": "bottom", "values": [-10, -30, -50, -70, -90], "tickSize": 2.5, "labels": false, "domain": false, "title": null}},
            "y": {"field": "hi", "type": "quantitative", "scale": {"domain": [-5e-4, 9.3e-5], "reverse": true},
              "axis": {"orient": "left", "values": [-4.5e-4, -3.5e-4, -2.5e-4, -1.5e-4, -5e-5, 5e-5], "tickSize": 2.5, "labels": false, "domain": false, "title": null}},
            "y2": {"field": "lo"}
          }
        },
        {
          "data": {"name": "arrows"},
          "transform": [{"filter": "datum.p == 'c'"}],
          "mark": {"type": "point", "shape": "triangle-up", "size": 40, "filled": true, "color": "#333333", "opacity": 1},
          "encoding": {
            "x": {"field": "v", "type": "quantitative", "scale": {"domain": [-100, 0], "reverse": true}, "axis": null},
            "y": {"field": "hi", "type": "quantitative", "scale": {"domain": [-5e-4, 9.3e-5], "reverse": true}, "axis": null}
          }
        },
        {
          "data": {"name": "arrows"},
          "transform": [{"filter": "datum.p == 'c'"}],
          "mark": {"type": "point", "shape": "triangle-down", "size": 40, "filled": true, "color": "#333333", "opacity": 1},
          "encoding": {
            "x": {"field": "v", "type": "quantitative", "scale": {"domain": [-100, 0], "reverse": true}, "axis": null},
            "y": {"field": "lo", "type": "quantitative", "scale": {"domain": [-5e-4, 9.3e-5], "reverse": true}, "axis": null}
          }
        },
        {
          "data": {"name": "notes"},
          "transform": [{"filter": "datum.p == 'c'"}],
          "mark": {"type": "text", "align": "right", "baseline": "middle", "fontSize": 11},
          "encoding": {
            "x": {"field": "v", "type": "quantitative", "scale": {"domain": [-100, 0], "reverse": true}, "axis": null},
            "y": {"field": "i", "type": "quantitative", "scale": {"domain": [-5e-4, 9.3e-5], "reverse": true}, "axis": null},
            "text": {"field": "t1"}
          }
        },
        {
          "data": {"name": "notes"},
          "transform": [{"filter": "datum.p == 'c'"}],
          "mark": {"type": "text", "align": "left", "baseline": "middle", "fontSize": 7, "dx": 1, "dy": 3},
          "encoding": {
            "x": {"field": "v", "type": "quantitative", "scale": {"domain": [-100, 0], "reverse": true}, "axis": null},
            "y": {"field": "i", "type": "quantitative", "scale": {"domain": [-5e-4, 9.3e-5], "reverse": true}, "axis": null},
            "text": {"field": "t2"}
          }
        },
        {
          "data": {"name": "notes"},
          "transform": [{"filter": "datum.p == 'c'"}],
          "mark": {"type": "text", "align": "left", "baseline": "middle", "fontSize": 11, "dx": 14},
          "encoding": {
            "x": {"field": "v", "type": "quantitative", "scale": {"domain": [-100, 0], "reverse": true}, "axis": null},
            "y": {"field": "i", "type": "quantitative", "scale": {"domain": [-5e-4, 9.3e-5], "reverse": true}, "axis": null},
            "text": {"field": "t3"}
          }
        },
        {
          "data": {"name": "tags"},
          "transform": [{"filter": "datum.p == 'c'"}],
          "mark": {"type": "text", "align": "center", "baseline": "middle", "fontSize": 16},
          "encoding": {
            "x": {"field": "v", "type": "quantitative", "scale": {"domain": [-100, 0], "reverse": true}, "axis": null},
            "y": {"field": "y", "type": "quantitative", "scale": {"domain": [-5e-4, 9.3e-5], "reverse": true}, "axis": null},
            "text": {"field": "t"}
          }
        }
      ]
    },
    {
      "width": 222,
      "height": 188,
      "data": {"name": "td"},
      "resolve": {"scale": {"y": "independent"}, "axis": {"x": "independent", "y": "independent"}},
      "layer": [
        {
          "mark": {"type": "line", "color": "#808080", "strokeWidth": 0.6},
          "encoding": {
            "x": {"field": "v", "type": "quantitative", "scale": {"domain": [-100, 10], "reverse": true},
              "axis": {"orient": "bottom", "values": [-10, -30, -50, -70, -90], "tickSize": -2.5, "labels": false, "domain": false, "title": null}},
            "y": {"field": "ia", "type": "quantitative", "scale": {"type": "log", "domain": [1e-11, 1e-2]},
              "axis": {"orient": "left", "tickSize": -2, "labels": false, "domain": false, "title": null,
                "values": [2e-11, 3e-11, 4e-11, 5e-11, 6e-11, 7e-11, 8e-11, 9e-11, 2e-10, 3e-10, 4e-10, 5e-10, 6e-10, 7e-10, 8e-10, 9e-10, 2e-9, 3e-9, 4e-9, 5e-9, 6e-9, 7e-9, 8e-9, 9e-9, 2e-8, 3e-8, 4e-8, 5e-8, 6e-8, 7e-8, 8e-8, 9e-8, 2e-7, 3e-7, 4e-7, 5e-7, 6e-7, 7e-7, 8e-7, 9e-7, 2e-6, 3e-6, 4e-6, 5e-6, 6e-6, 7e-6, 8e-6, 9e-6, 2e-5, 3e-5, 4e-5, 5e-5, 6e-5, 7e-5, 8e-5, 9e-5, 2e-4, 3e-4, 4e-4, 5e-4, 6e-4, 7e-4, 8e-4, 9e-4, 2e-3, 3e-3, 4e-3, 5e-3, 6e-3, 7e-3, 8e-3, 9e-3]}}
          }
        },
        {
          "mark": {"type": "line", "color": "#808080", "strokeWidth": 0.6},
          "encoding": {
            "x": {"field": "v", "type": "quantitative", "scale": {"domain": [-100, 10], "reverse": true}, "axis": null},
            "y": {"field": "ib", "type": "quantitative", "scale": {"type": "log", "domain": [1e-11, 1e-2]}, "axis": null}
          }
        },
        {
          "mark": {"type": "point", "shape": "square", "size": 12, "filled": true, "color": "#111111", "opacity": 1},
          "encoding": {
            "x": {"field": "v", "type": "quantitative", "scale": {"domain": [-100, 10], "reverse": true},
              "axis": {"orient": "bottom", "values": [0, -20, -40, -60, -80, -100], "tickSize": -4, "labelPadding": 9, "title": "Vɢꜱ (V)", "titlePadding": 3}},
            "y": {"field": "ia", "type": "quantitative", "scale": {"type": "log", "domain": [1e-11, 1e-2]},
              "axis": {"orient": "left", "values": [1e-11, 1e-10, 1e-9, 1e-8, 1e-7, 1e-6, 1e-5, 1e-4, 1e-3, 1e-2], "tickSize": -4, "labelPadding": 9, "title": "Iᴅꜱ (A)", "titlePadding": 8,
                "labelExpr": "datum.value < 3e-11 ? '10⁻¹¹' : datum.value < 3e-10 ? '10⁻¹⁰' : datum.value < 3e-9 ? '10⁻⁹' : datum.value < 3e-8 ? '10⁻⁸' : datum.value < 3e-7 ? '10⁻⁷' : datum.value < 3e-6 ? '10⁻⁶' : datum.value < 3e-5 ? '10⁻⁵' : datum.value < 3e-4 ? '10⁻⁴' : datum.value < 3e-3 ? '10⁻³' : '10⁻²'"}}
          }
        },
        {
          "mark": {"type": "point", "shape": "square", "size": 12, "filled": true, "color": "#111111", "opacity": 1},
          "encoding": {
            "x": {"field": "v", "type": "quantitative", "scale": {"domain": [-100, 10], "reverse": true}, "axis": null},
            "y": {"field": "ib", "type": "quantitative", "scale": {"type": "log", "domain": [1e-11, 1e-2]}, "axis": null}
          }
        },
        {
          "mark": {"type": "line", "color": "#2a4bbf", "strokeWidth": 2.2},
          "encoding": {
            "x": {"field": "v", "type": "quantitative", "scale": {"domain": [-100, 10], "reverse": true}, "axis": null},
            "y": {"field": "sa", "type": "quantitative", "scale": {"domain": [-0.0027, 0.03]}, "axis": null}
          }
        },
        {
          "mark": {"type": "line", "color": "#2a4bbf", "strokeWidth": 2.2},
          "encoding": {
            "x": {"field": "v", "type": "quantitative", "scale": {"domain": [-100, 10], "reverse": true}, "axis": null},
            "y": {"field": "sb", "type": "quantitative", "scale": {"domain": [-0.0027, 0.03]}, "axis": null}
          }
        },
        {
          "mark": {"type": "point", "shape": "triangle-up", "size": 18, "filled": true, "color": "#2a4bbf", "opacity": 1},
          "encoding": {
            "x": {"field": "v", "type": "quantitative", "scale": {"domain": [-100, 10], "reverse": true},
              "axis": {"orient": "top", "values": [0, -10, -20, -30, -40, -50, -60, -70, -80, -90], "tickSize": -3, "labels": false, "title": null}},
            "y": {"field": "sa", "type": "quantitative", "scale": {"domain": [-0.0027, 0.03]},
              "axis": {"orient": "right", "values": [0, 0.005, 0.01, 0.015, 0.02, 0.025, 0.03], "format": ".3f", "tickSize": -4, "labelPadding": 9, "labelFontSize": 11,
                "labelColor": "#3b4fae", "domainColor": "#5468c0", "tickColor": "#5468c0", "title": "Iᴅꜱ¹ᐟ² (A¹ᐟ²)", "titleAngle": 270, "titleBaseline": "top", "titlePadding": 8}}
          }
        },
        {
          "mark": {"type": "point", "shape": "triangle-up", "size": 18, "filled": true, "color": "#2a4bbf", "opacity": 1},
          "encoding": {
            "x": {"field": "v", "type": "quantitative", "scale": {"domain": [-100, 10], "reverse": true}, "axis": null},
            "y": {"field": "sb", "type": "quantitative", "scale": {"domain": [-0.0027, 0.03]},
              "axis": {"orient": "right", "values": [0.0025, 0.0075, 0.0125, 0.0175, 0.0225, 0.0275], "tickSize": -2, "labels": false, "domain": false, "tickColor": "#5468c0", "title": null}}
          }
        },
        {
          "data": {"name": "tags"},
          "transform": [{"filter": "datum.p == 'd'"}],
          "mark": {"type": "text", "align": "center", "baseline": "middle", "fontSize": 16},
          "encoding": {
            "x": {"field": "v", "type": "quantitative", "scale": {"domain": [-100, 10], "reverse": true}, "axis": null},
            "y": {"field": "y", "type": "quantitative", "scale": {"type": "log", "domain": [1e-11, 1e-2]}, "axis": null},
            "text": {"field": "t"}
          }
        }
      ]
    }
  ]
}
